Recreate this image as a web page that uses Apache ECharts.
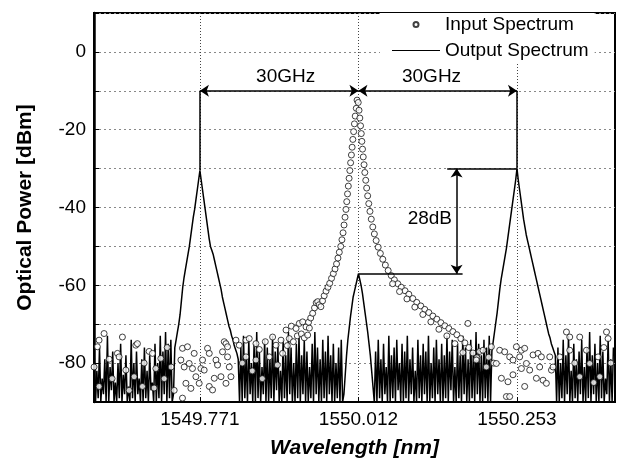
<!DOCTYPE html>
<html>
<head>
<meta charset="utf-8">
<script src="https://cdn.jsdelivr.net/npm/echarts@6/dist/echarts.min.js"></script>
<style>
  html, body { margin: 0; padding: 0; background: #fff; }
  #chart { width: 622px; height: 465px; }
</style>
</head>
<body>
<div id="chart"></div>
<script>
// wavelength ticks (nm)
const tickWavelengths = [1549.771, 1550.012, 1550.253];
const yTickLabels = [0, -20, -40, -60, -80];

// output spectrum: OSA sweep, one reading per sample
const outputStart = 1549.61033;
const outputStep = 0.241 / 120;
const outputPower = [
  // floor, left edge
  -78,-90,-82,-89,-76,-90,-84,-88,-79,-90,-73,-90,-81,-87,-77,-90,-85,-90,-80,-89,
  -75,-90,-83,-88,-78,-90,-86,-90,-74,-89,-80,-90,-77,-88,-84,-90,-79,-90,-76,-89,
  -82,-90,-78,-87,-85,-90,-75,-90,-80,-89,-73,-90,-77,-88,-72,-90,-75,-89,-74,-90,
  -88,
  // sideband at 1549.771
  -76,-74,-72,-70,-67.5,-64,-60.5,-58,-56,-54,-52,-50,-47.5,-45,-42.5,-40.5,-38,-35.5,-33,
  -30.5,
  -33,-35.5,-38,-40.5,-43,-45.5,-48,-50,-51,-52,-53.5,-55,-56.5,-58,-59.5,-61,-63,-64.5,
  -66,-67.5,-69,-70.5,-71.5,-73,-74,-75.5,-76.5,-77.5,-79,
  // floor
  -90,-76,-90,-73,-89,-78,-90,-74,-88,-80,-90,-75,-90,-72,-89,-77,-90,-81,-88,-74,
  -90,-76,-90,-79,-89,-73,-90,-77,-87,-75,-90,-82,-90,-74,-89,-78,-90,-72,-88,-76,
  -90,-80,-90,-75,-89,-73,-90,-78,-88,-74,-90,-77,-90,-81,-89,-75,-90,-72,-88,-76,
  -90,-79,-90,-74,-89,-77,-90,-73,-88,-78,-90,-75,-90,-80,-89,-76,-90,-74,
  // suppressed carrier at 1550.012
  -90,-88,-83,-78,-74,-71,-68,-65.5,-63,-61.5,-60,-58.5,
  -57,
  -58.5,-60,-62,-64.5,-67,-69.5,-72,-75,-78,-82,-86,-90,
  // floor
  -77,-90,-74,-89,-79,-90,-75,-88,-81,-90,-73,-90,-78,-89,-76,-90,-74,-87,-80,-90,
  -75,-90,-77,-89,-73,-90,-79,-88,-76,-90,-82,-90,-74,-89,-78,-90,-75,-88,-77,-90,
  -73,-90,-80,-89,-76,-90,-74,-88,-79,-90,-75,-90,-78,-89,-73,-90,-77,-87,-74,-90,
  -81,-90,-75,-89,-78,-90,-73,-88,-76,-90,-79,-90,-74,-89,-77,-90,-72,-88,-75,-90,
  -78,-90,-74,-89,-76,-90,-73,
  -90,
  // sideband at 1550.253
  -77,-74.5,-72,-69.5,-67,-64,-61,-58.5,-56.5,-54.5,-52.5,-50.5,-48,-45.5,-43,-40.5,-38,-35.5,-33,
  -30,
  -33,-35.5,-38,-40.5,-43,-45,-47,-48.5,-50,-51.5,-53,-54.5,-56,-57.5,-59,-60.5,-62,-63.5,
  -65,-66.5,-68,-69.5,-71,-72.5,-73.5,-75,-76,-77,-78,
  -90,
  // floor, right edge
  -76,-90,-80,-89,-74,-90,-78,-88,-73,-90,-82,-90,-75,-89,-79,-90,-77,-88,-74,-90,
  -81,-90,-76,-89,-72,-90,-78,-88,-75,-90,-80,-90,-73,-89,-77,-90,-84,-88,-74,-90,
  -79,-90,-76
];

// input spectrum readings (nm, dBm)
const inputWavelength = [
  // left floor
  1549.6101,1549.6151,1549.6177,1549.6177,1549.6253,1549.6330,1549.6375,1549.6456,1549.6482,
  1549.6532,1549.6584,1549.6634,1549.6710,1549.6736,1549.6760,1549.6836,1549.6862,1549.6938,
  1549.6989,1549.7014,1549.7040,1549.7116,1549.7167,1549.7212,1549.7273,1549.7319,
  // under left sideband
  1549.7421,1549.7445,1549.7445,1549.7471,1549.7497,1549.7521,1549.7547,1549.7573,1549.7597,
  1549.7623,1549.7649,1549.7699,1549.7725,1549.7750,1549.7775,1549.7826,1549.7852,1549.7852,
  1549.7902,1549.7928,1549.7954,1549.7978,1549.8030,1549.8054,1549.8080,1549.8106,1549.8106,
  1549.8130,1549.8130,1549.8156,1549.8182,
  // rising toward carrier
  1549.8258,1549.8308,1549.8354,1549.8410,1549.8410,1549.8460,1549.8506,1549.8562,1549.8562,
  1549.8613,1549.8658,1549.8704,1549.8765,1549.8815,1549.8867,1549.8887,1549.8943,1549.8967,
  1549.9019,1549.9039,1549.9069,1549.9100,1549.9130,1549.9171,1549.9191,1549.9221,1549.9252,
  1549.9272,1549.9297,1549.9323,1549.9348,1549.9374,
  // carrier, left slope
  1549.9361,1549.9394,1549.9424,1549.9452,1549.9478,1549.9501,1549.9523,1549.9549,1549.9574,
  1549.9599,1549.9627,1549.9656,1549.9683,1549.9711,1549.9738,1549.9764,1549.9787,1549.9808,
  1549.9829,1549.9851,1549.9869,1549.9886,1549.9901,1549.9916,1549.9930,1549.9942,1549.9954,
  1549.9966,1549.9978,1549.9989,1550.0001,1550.0013,1550.0024,1550.0035,1550.0047,1550.0059,
  1550.0071,1550.0087,1550.0099,
  // carrier, right slope
  1550.0117,1550.0129,1550.0141,1550.0152,1550.0163,1550.0172,1550.0182,1550.0193,1550.0205,
  1550.0217,1550.0231,1550.0245,1550.0260,1550.0277,1550.0295,1550.0315,1550.0338,1550.0362,
  1550.0389,1550.0420,1550.0453,1550.0490,1550.0529,1550.0572,1550.0618,1550.0666,1550.0718,
  1550.0771,1550.0828,1550.0886,1550.0946,1550.1007,1550.1068,1550.1129,1550.1190,1550.1251,
  1550.1312,1550.1373,1550.1433,1550.1494,1550.1555,1550.1616,1550.1677,1550.1738,1550.1799,
  1550.1860,1550.1921,
  // second row on the tail
  1550.0640,1550.0745,1550.0857,1550.0977,1550.1099,1550.1221,1550.1343,1550.1464,1550.1586,1550.1708,
  // right floor and under right sideband
  1550.1784,1550.1912,1550.1962,1550.2013,1550.2064,1550.2099,1550.2140,1550.2175,1550.2216,
  1550.2267,1550.2293,1550.2343,1550.2369,1550.2393,1550.2419,1550.2419,1550.2469,1550.2469,
  1550.2521,1550.2571,1550.2597,1550.2597,1550.2647,1550.2647,1550.2673,1550.2723,1550.2774,
  1550.2825,1550.2850,1550.2875,1550.2901,1550.2926,1550.2977,1550.3028,1550.3054,1550.3078,
  1550.3180,1550.3282,1550.3332,1550.3332,1550.3408,1550.3484,1550.3484,1550.3586,1550.3636,
  1550.3697,1550.3763,1550.3789,1550.3850,1550.3891,1550.3915,1550.3956
];
const inputPower = [
  -81,-75.8,-74.1,-86,-72.4,-79,-84,-77.5,-78.4,
  -73.3,-81.8,-87,-83.5,-75.4,-75,-86,-80,-77,
  -77.5,-86.4,-81.4,-78.8,-84,-76,-81,-87,
  -79.2,-76.2,-89,-81,-85.2,-75.8,-80.1,-86.5,-81.4,
  -77.5,-83.5,-85.2,-81.4,-79.2,-81.8,-76.2,-77.5,-86,
  -86.9,-83.9,-79.2,-80.5,-83.5,-77.1,-74.5,-85.2,-75,
  -75.8,-78.4,-81,-83.5,
  -74.1,-75.4,-80,-74.1,-78.4,-73.7,-82,-75,-79.2,
  -76.5,-84,-74.5,-78.4,-73.3,-75.4,-80.5,-74.1,-77.5,
  -71.5,-75.5,-73.7,-70.5,-74.5,-71.1,-73,-69.8,-72.5,
  -69.4,-73.5,-70.7,-72.8,-71,
  -69.5,-68.4,-67.2,-65.8,-64.5,-64.2,-65,-65.5,-64,
  -62.7,-61.5,-60.5,-59.5,-58.2,-57,-55.8,-54.5,-53,
  -51.5,-50,-48.3,-46.5,-44.5,-42.5,-40.5,-38.5,-36.5,
  -34.5,-32.5,-30.5,-28.5,-26.5,-24.5,-22.5,-20.5,-18.5,
  -16.5,-14.5,-12.4,
  -13,-15,-17,-19,-21,-23,-25,-27,-29,
  -31,-33,-35,-37,-39,-41,-43,-45,-46.8,
  -48.5,-50.2,-51.8,-53.3,-54.8,-56.2,-57.5,-58.6,-59.6,
  -60.5,-61.4,-62.3,-63.4,-64.4,-65.3,-66.2,-67,-67.9,
  -68.7,-69.6,-70.4,-71.1,-71.9,-72.7,-73.7,-74.8,-76,
  -77.4,-78.6,
  -59.6,-61.6,-63.5,-65.6,-67.5,-69.4,-71.3,-73,-75,-77.3,
  -69.8,-79.2,-77,-76.7,-81,-78.5,-75.8,-80,-80.1,
  -76.7,-83.9,-77.1,-88.6,-84.8,-78.4,-88.6,-79.2,-83,
  -75.8,-78.4,-76.7,-81.4,-76.2,-86,-80.1,-81.8,-77.9,
  -83.9,-77.5,-81,-78.4,-84.4,-85.2,-78.4,-81.8,-81,
  -78.4,-72,-73.3,-76.7,-80,-73.3,-83.5,-76.7,-80.1,
  -85,-78.4,-83.5,-76,-72,-73.7,-80
];

// annotation readings
const spacingLevel = -10;           // 30GHz arrows (dBm)
const sidebandPeak = -30;           // upper reference line
const carrierResidual = -57;        // lower reference line
const suppressionArrowAt = 1550.1612;
const upperRefFrom = 1550.1469;
const lowerRefTo = 1550.1703;
const labelTexts = ['30GHz', '30GHz', '28dB'];
const labelWavelengths = [1549.9013, 1550.1231, 1550.1205];
const labelPowers = [-6.3, -6.3, -42.8];

const outputData = outputPower.map((p, i) => [outputStart + i * outputStep, p]);
const inputData = inputWavelength.map((w, i) => [w, inputPower[i]]);

const chart = echarts.init(document.getElementById('chart'), null, { renderer: 'canvas' });

const font = 'Liberation Sans';
const arrowPair = (a, b, s1, s2) => [
  { coord: a, symbol: s1 },
  { coord: b, symbol: s2 }
];

const option = {
  animation: false,
  backgroundColor: '#fff',
  textStyle: { fontFamily: font, color: '#000' },
  grid: {
    left: 94, right: 7, top: 13, bottom: 63,
    show: true, borderColor: '#000', borderWidth: 2, backgroundColor: 'transparent'
  },
  legend: {
    orient: 'vertical',
    left: 380, top: 13,
    padding: [2, 6, 4, 12],
    backgroundColor: '#fff',
    itemWidth: 48, itemHeight: 5, itemGap: 7,
    textStyle: { fontFamily: font, fontSize: 19, color: '#000' },
    data: [
      { name: 'Input Spectrum', icon: 'circle' },
      { name: 'Output Spectrum', icon: 'path://M0,0H48V1.2H0Z' }
    ]
  },
  xAxis: {
    type: 'value',
    min: 1549.610, max: 1550.402,
    name: 'Wavelength [nm]',
    nameLocation: 'middle', nameGap: 36,
    nameTextStyle: { fontFamily: font, fontSize: 21, fontWeight: 'bold', fontStyle: 'italic', color: '#000' },
    axisLine: { onZero: false, lineStyle: { color: '#000', width: 2 } },
    axisTick: { show: true, inside: true, length: 5, customValues: tickWavelengths, lineStyle: { color: '#000' } },
    axisLabel: {
      customValues: tickWavelengths, margin: 8,
      fontFamily: font, fontSize: 19, color: '#000',
      formatter: v => v.toFixed(3)
    },
    splitLine: { show: true, lineStyle: { color: '#444', type: [1, 2], width: 1 } }
  },
  yAxis: {
    type: 'value',
    min: -90, max: 10, interval: 10,
    name: 'Optical Power [dBm]',
    nameLocation: 'middle', nameGap: 58,
    nameTextStyle: { fontFamily: font, fontSize: 21, fontWeight: 'bold', color: '#000' },
    axisLine: { onZero: false, lineStyle: { color: '#000', width: 2.5 } },
    axisTick: { show: true, inside: true, length: 5, lineStyle: { color: '#000' } },
    axisLabel: {
      margin: 8, fontFamily: font, fontSize: 19, color: '#000',
      formatter: v => (yTickLabels.indexOf(v) >= 0 ? String(v) : '')
    },
    splitLine: { show: true, lineStyle: { color: '#888', type: [2, 3], width: 1 } }
  },
  series: [
    {
      name: 'Output Spectrum',
      type: 'line',
      data: outputData,
      showSymbol: false,
      symbol: 'none',
      lineStyle: { color: '#000', width: 1.5 },
      itemStyle: { color: '#000' },
      z: 2,
      markLine: {
        silent: true,
        animation: false,
        symbolSize: 9,
        label: { show: false },
        lineStyle: { color: '#000', width: 1.5, type: 'solid' },
        emphasis: { disabled: true },
        data: [
          arrowPair([tickWavelengths[0], spacingLevel], [tickWavelengths[1], spacingLevel], 'arrow', 'arrow'),
          arrowPair([tickWavelengths[1], spacingLevel], [tickWavelengths[2], spacingLevel], 'arrow', 'arrow'),
          arrowPair([tickWavelengths[0], spacingLevel], [tickWavelengths[0], sidebandPeak - 0.5], 'none', 'none'),
          arrowPair([tickWavelengths[2], spacingLevel], [tickWavelengths[2], sidebandPeak], 'none', 'none'),
          arrowPair([upperRefFrom, sidebandPeak], [tickWavelengths[2], sidebandPeak], 'none', 'none'),
          arrowPair([tickWavelengths[1], carrierResidual], [lowerRefTo, carrierResidual], 'none', 'none'),
          arrowPair([suppressionArrowAt, sidebandPeak], [suppressionArrowAt, carrierResidual], 'arrow', 'arrow')
        ]
      },
      markPoint: {
        silent: true,
        animation: false,
        symbol: 'circle',
        symbolSize: 1,
        itemStyle: { color: 'rgba(0,0,0,0)' },
        label: {
          show: true, position: 'inside',
          fontFamily: font, fontSize: 19, color: '#000',
          formatter: p => p.name
        },
        data: labelTexts.map((t, i) => ({ name: t, coord: [labelWavelengths[i], labelPowers[i]] }))
      }
    },
    {
      name: 'Input Spectrum',
      type: 'scatter',
      data: inputData,
      symbol: 'circle',
      symbolSize: 6,
      itemStyle: { color: '#fff', borderColor: '#111', borderWidth: 1 },
      z: 3
    }
  ]
};

chart.setOption(option);
</script>
</body>
</html>
